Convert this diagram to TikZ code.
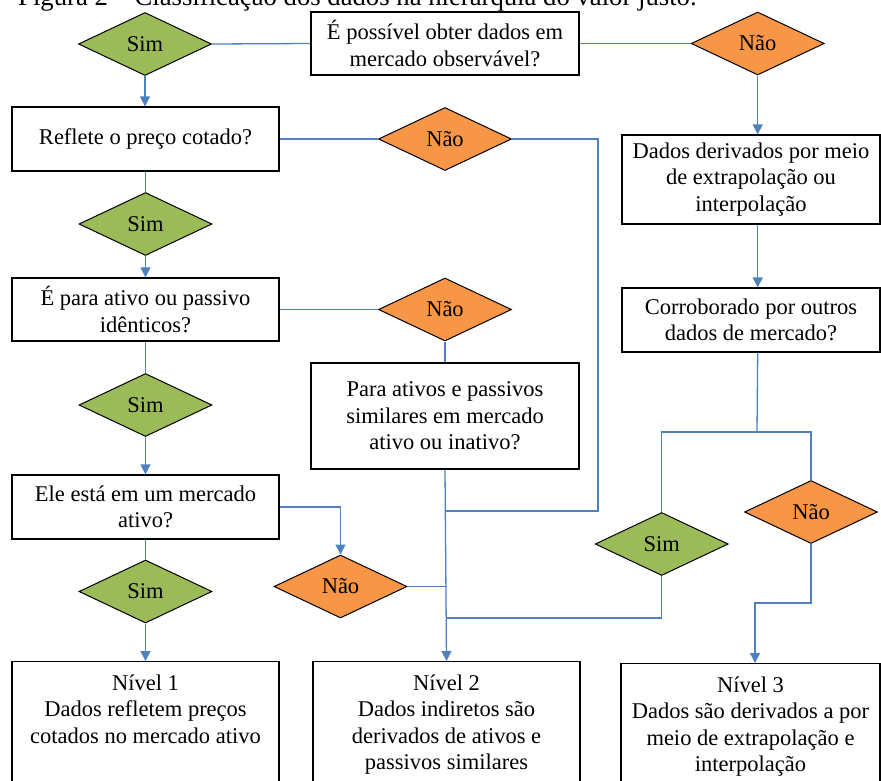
\documentclass[tikz,border=0pt]{standalone}
\usepackage{fontspec}
\setmainfont{Liberation Serif}
\usetikzlibrary{shapes.geometric,arrows.meta}
\definecolor{sgreen}{HTML}{9BBB59}
\definecolor{sorange}{HTML}{F79646}
\definecolor{lblue}{HTML}{4F81BD}
\begin{document}
\begin{tikzpicture}[x=1pt,y=-1pt,
  txt/.style={font=\fontsize{22.5}{26.5}\selectfont},
  box/.style={txt, draw=black, line width=1.2pt, fill=white, rectangle, align=center, inner sep=0pt},
  lvlbox/.style={draw=black, line width=1.2pt, fill=white, rectangle, inner sep=0pt, anchor=north, minimum height=135pt},
  lvltext/.style={txt, align=center, inner sep=0pt, anchor=north},
  dia/.style={txt, diamond, draw=black, line width=1pt, minimum width=133pt, minimum height=63pt, inner sep=0pt},
  sim/.style={dia, fill=sgreen},
  nao/.style={dia, fill=sorange},
  conn/.style={draw=lblue, line width=1.3pt},
  arr/.style={conn, -{Triangle[width=10pt,length=10pt]}}
]
\useasboundingbox (0,0) rectangle (881,780);
\node[font=\fontsize{26.7}{30}\selectfont, anchor=base west, inner sep=0pt] (title) at (18,5.5) {Figura 2 – Classificação dos dados na hierarquia do valor justo.};

% top row
\node[box, minimum width=268pt, minimum height=63pt] (A) at (445,43.5) {É possível obter dados em\\mercado observável?};
\node[sim] (sim1) at (145,44) {Sim};
\node[nao] (nao1) at (757.7,43.5) {Não};

% left column
\node[box, minimum width=267pt, minimum height=64pt] (B) at (145.5,139) {Reflete o preço cotado?};
\node[sim] (sim2) at (145.5,224) {Sim};
\node[box, minimum width=267pt, minimum height=63pt] (C) at (145.5,309.5) {É para ativo ou passivo\\idênticos?};
\node[sim] (sim3) at (145.5,405) {Sim};
\node[box, minimum width=267pt, minimum height=64pt] (F) at (145.5,507) {Ele está em um mercado\\ativo?};
\node[sim] (sim4) at (145.5,591.5) {Sim};

% middle column
\node[nao] (naoB) at (445,139) {Não};
\node[nao] (naoC) at (445,309.5) {Não};
\node[box, minimum width=268pt, minimum height=106pt] (G) at (445,416) {Para ativos e passivos\\similares em mercado\\ativo ou inativo?};
\node[nao] (naoF) at (340.5,586.5) {Não};

% right column
\node[box, minimum width=258pt, minimum height=89pt] (D) at (751,179.5) {Dados derivados por meio\\de extrapolação ou\\interpolação};
\node[box, minimum width=258pt, minimum height=64pt] (E) at (751,320) {Corroborado por outros\\dados de mercado?};
\node[sim] (sim5) at (661.7,544) {Sim};
\node[nao] (nao5) at (811,512) {Não};

% level boxes
\node[lvlbox, minimum width=267pt] (lvl1) at (145.5,661) {};
\node[lvlbox, minimum width=267pt] (lvl2) at (446.5,661) {};
\node[lvlbox, minimum width=259pt] (lvl3) at (750.5,663) {};
\node[lvltext] (lvl1t) at ([yshift=-13.6pt]lvl1.north) {Nível 1\\Dados refletem preços\\cotados no mercado ativo};
\node[lvltext] (lvl2t) at ([yshift=-13.6pt]lvl2.north) {Nível 2\\Dados indiretos são\\derivados de ativos e\\passivos similares};
\node[lvltext] (lvl3t) at ([yshift=-13.6pt]lvl3.north) {Nível 3\\Dados são derivados a por\\meio de extrapolação e\\interpolação};

% coordinates
\coordinate (jB1) at (598,139);
\coordinate (jB2) at (598,511);
\coordinate (trunkB) at (446,511);
\coordinate (trunkF) at (446,586.5);
\coordinate (trunkS) at (446,618);
\coordinate (eb) at (757,432);
\coordinate (n5b) at (811,603);
\coordinate (n5c) at (755,603);

% connectors
\draw[conn] (sim1.east) -- (A.west);
\draw[conn] (A.east) -- (nao1.west);
\draw[arr] (sim1.south) -- (sim1.south |- B.north);
\draw[arr] (nao1.south) -- (nao1.south |- D.north);

\draw[conn] (B.south) -- (sim2.north);
\draw[arr] (sim2.south) -- (C.north);
\draw[conn] (C.south) -- (sim3.north);
\draw[arr] (sim3.south) -- (F.north);
\draw[conn] (F.south) -- (sim4.north);
\draw[arr] (sim4.south) -- (lvl1.north);

\draw[conn] (B.east) -- (naoB.west);
\draw[conn] (naoB.east) -- (jB1) -- (jB2) -- (trunkB);
\draw[conn] (C.east) -- (naoC.west);
\draw[conn] (naoC.south) -- (G.north);
\draw[arr] (G.south) -- (lvl2.north);
\draw[arr] (F.east) -| (naoF.north);
\draw[conn] (naoF.east) -- (trunkF);
\draw[conn] (sim5.south) |- (trunkS);

\draw[arr] (nao1.south |- D.south) -- (nao1.south |- E.north);
\draw[conn] (nao1.south |- E.south) -- (eb);
\draw[conn] (sim5.north) |- (eb) -| (nao5.north);
\draw[arr] (nao5.south) -- (n5b) -- (n5c) -- (n5c |- lvl3.north);
\end{tikzpicture}
\end{document}
